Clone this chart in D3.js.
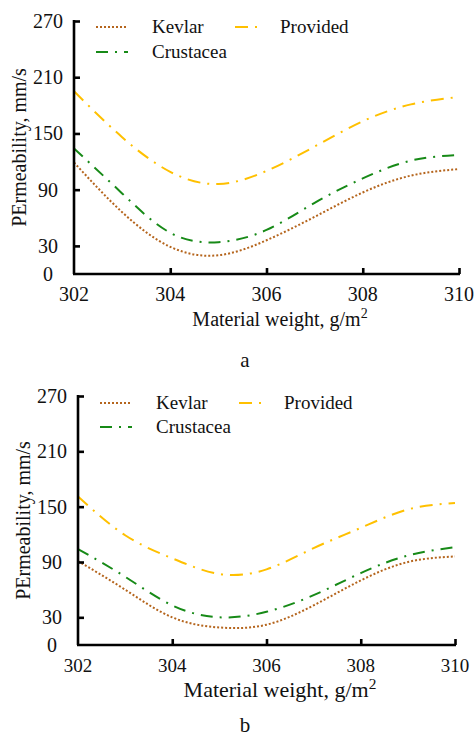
<!DOCTYPE html>
<html>
<head>
<meta charset="utf-8">
<script src="https://cdn.jsdelivr.net/npm/d3@7"></script>
<style>
    body { margin: 0; background: #fff; }
</style>
</head>
<body>
<script>
// anonymous function so nothing is in global scope
(function(){
    // pseudo-global data
    var xValues = [302, 303, 304, 305, 306, 307, 308, 309, 310];
    var xTicks = [302, 304, 306, 308, 310];
    var yTicks = [0, 30, 90, 150, 210, 270];
    var seriesNames = ["Kevlar", "Crustacea", "Provided"];

    // panel a values
    var kevlarA = [119, 66, 29, 20, 36, 61, 87, 105, 112];
    var crustaceaA = [134, 86, 44, 34, 47, 76, 102, 121, 127];
    var providedA = [195, 146, 109, 96, 110, 136, 163, 181, 189];

    // panel b values
    var kevlarB = [91, 60, 30, 19, 22, 43, 70, 90, 96];
    var crustaceaB = [104, 74, 43, 30, 36, 54, 78, 97, 106];
    var providedB = [161, 119, 94, 77, 82, 105, 127, 147, 154];

    var panelLabels = ["a", "b"];

    // line styles for each series
    var colors = ["#b5651d", "#178a17", "#ffc000"];
    var dashes = ["2,2", "12,7,2,7", "13,7,2,7"];

    var serif = "'Liberation Serif'";

    var width = 475,
        height = 738;

    var svg = d3.select("body")
        .append("svg")
        .attr("width", width)
        .attr("height", height)
        .style("font-family", serif);

    drawPanel({
        left: 74, right: 459, top: 21, bottom: 274,
        tickLabelX: 48, tickFont: 20, xTickFont: 20, titleFont: 20,
        xTickBase: 301, xTitleBase: 326, yTitleX: 26, letterBase: 367,
        legendTop: 27, legendGap: 25,
        series: [kevlarA, crustaceaA, providedA],
        label: panelLabels[0]
    });
    drawPanel({
        left: 78, right: 455, top: 396, bottom: 645,
        tickLabelX: 52, tickFont: 20, xTickFont: 19, titleFont: 22,
        xTickBase: 672, xTitleBase: 697, yTitleX: 30, letterBase: 732,
        legendTop: 403, legendGap: 24,
        series: [kevlarB, crustaceaB, providedB],
        label: panelLabels[1]
    });

    // small helper so every text gets the serif face
    function addText(g, size){
        return g.append("text")
            .style("font-family", serif)
            .style("font-size", size + "px")
            .attr("fill", "#111");
    };

    function drawPanel(p){
        var g = svg.append("g");

        var x = d3.scaleLinear()
            .domain([302, 310])
            .range([p.left, p.right]);

        var y = d3.scaleLinear()
            .domain([0, 270])
            .range([p.bottom, p.top]);

        // curves
        var line = d3.line()
            .x(function(d, i){ return x(xValues[i]); })
            .y(function(d){ return y(d); })
            .curve(d3.curveNatural);

        p.series.forEach(function(vals, k){
            g.append("path")
                .datum(vals)
                .attr("d", line)
                .attr("fill", "none")
                .attr("stroke", colors[k])
                .attr("stroke-width", 2)
                .attr("stroke-dasharray", dashes[k]);
        });

        // y axis with inward ticks, labels centred left of it
        var yAxis = d3.axisRight(y)
            .tickValues(yTicks.filter(function(d){ return d > 0; }))
            .tickSize(6)
            .tickFormat("");
        var ya = g.append("g")
            .attr("transform", "translate(" + p.left + ",0)")
            .call(yAxis);
        ya.select(".domain").attr("d", "M0," + p.bottom + "V" + (p.top - 1));

        yTicks.forEach(function(d){
            addText(g, p.tickFont)
                .attr("x", p.tickLabelX)
                .attr("y", y(d))
                .attr("dy", "0.35em")
                .attr("text-anchor", "middle")
                .text(d);
        });

        // x axis with inward ticks
        var xAxis = d3.axisTop(x)
            .tickValues(xTicks.slice(1))
            .tickSize(6)
            .tickFormat("");
        var xa = g.append("g")
            .attr("transform", "translate(0," + p.bottom + ")")
            .call(xAxis);
        xa.select(".domain").attr("d", "M" + (p.left - 1) + ",0H" + (p.right + 1));

        [ya, xa].forEach(function(a){
            a.selectAll("path, line")
                .attr("stroke", "#000")
                .attr("stroke-width", 2.6);
        });

        xTicks.forEach(function(d){
            addText(g, p.xTickFont)
                .attr("x", x(d))
                .attr("y", p.xTickBase)
                .attr("text-anchor", "middle")
                .text(d);
        });

        // axis titles
        var xt = addText(g, p.titleFont)
            .attr("x", 280)
            .attr("y", p.xTitleBase)
            .attr("text-anchor", "middle")
            .text("Material weight, g/m");
        xt.append("tspan")
            .attr("dy", "-0.55em")
            .style("font-size", "0.7em")
            .text("2");

        addText(g, 20)
            .attr("transform", "translate(" + p.yTitleX + "," + ((p.top + p.bottom) / 2) + ") rotate(-90)")
            .attr("text-anchor", "middle")
            .text("PErmeability, mm/s");

        // legend: two rows on the left, one on the right
        var legendPos = [
            {x: p.left + 22, y: p.legendTop, w: 32},
            {x: p.left + 22, y: p.legendTop + p.legendGap, w: 32},
            {x: p.left + 161, y: p.legendTop, w: 25}
        ];
        seriesNames.forEach(function(name, k){
            var pos = legendPos[k];
            g.append("line")
                .attr("x1", pos.x)
                .attr("x2", pos.x + pos.w)
                .attr("y1", pos.y)
                .attr("y2", pos.y)
                .attr("stroke", colors[k])
                .attr("stroke-width", 2)
                .attr("stroke-dasharray", dashes[k]);
            addText(g, 19)
                .attr("x", k == 2 ? pos.x + 45 : pos.x + 56)
                .attr("y", pos.y + 6)
                .text(name);
        });

        // panel letter
        addText(g, 21)
            .attr("x", 245)
            .attr("y", p.letterBase)
            .attr("text-anchor", "middle")
            .text(p.label);
    };

})();
</script>
</body>
</html>
